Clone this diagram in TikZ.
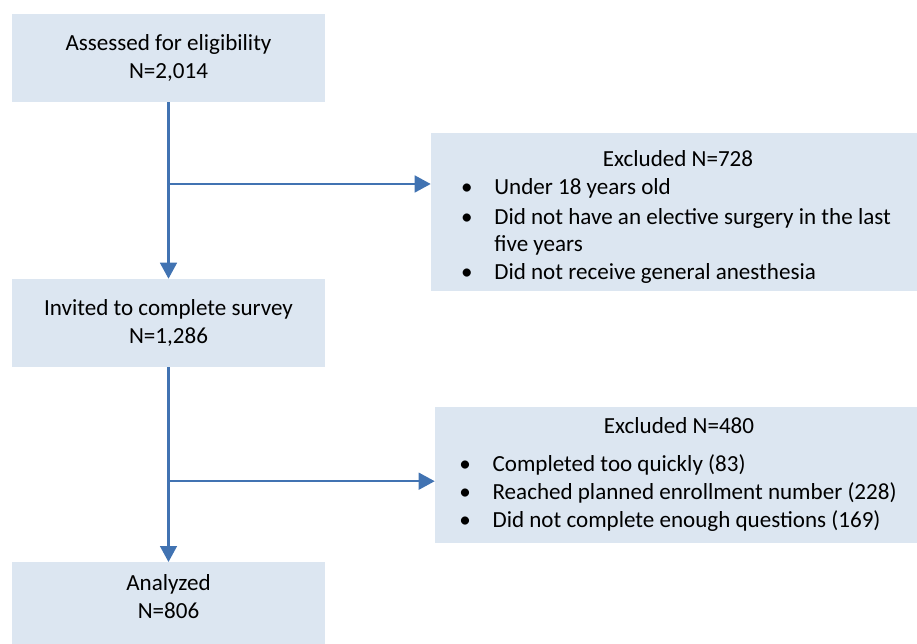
\documentclass[tikz,border=0pt]{standalone}
\usepackage{fontspec}
\setmainfont{Carlito}
\usepackage{xcolor}
\usetikzlibrary{positioning,arrows.meta,calc}

\definecolor{boxfill}{HTML}{DCE6F1}
\definecolor{arblue}{HTML}{4173B2}

\begin{document}
\begin{tikzpicture}[
  font=\fontsize{16.4}{19.9}\selectfont,
  stage/.style={fill=boxfill, align=center, inner sep=0pt,
                minimum width=7.825cm, minimum height=2.2cm},
  excl/.style={fill=boxfill, align=left, inner sep=0pt},
  ar/.style={-{Triangle[width=0.42cm,length=0.4cm]}, line width=1.5pt, arblue},
]
\useasboundingbox (0,0) rectangle (22.925,-16.075);
\newcommand{\bul}{\makebox[0.93cm][l]{\hspace{0.1cm}\textbullet}}

% --- main stages ---------------------------------------------------------
\node[stage] (assess) at (4.2125,-1.45)
     {Assessed for eligibility\\N=2,014};
\node[stage] (invite) at (4.2125,-8.075)
     {Invited to complete survey\\N=1,286};
\node[stage, anchor=north, text depth=0.5cm] (analyzed) at (4.2125,-14.05)
     {Analyzed\\N=806};

% --- exclusion boxes -----------------------------------------------------
\node[excl, minimum width=12.15cm, minimum height=3.95cm] (ex1) at (16.85,-5.3)
     {\begin{tabular}{@{}l@{}}
      \multicolumn{1}{@{}c@{}}{\rule{0pt}{0.76cm}\hspace{0.2cm}Excluded N=728}\\
      \bul Under 18 years old\\[0.05cm]
      \bul Did not have an elective surgery in the last\\
      \makebox[0.93cm]{}five years\\
      \bul Did not receive general anesthesia
      \end{tabular}};
\node[excl, minimum width=12.05cm, minimum height=3.4cm] (ex2) at (16.9,-11.875)
     {\begin{tabular}{@{}l@{}}
      \multicolumn{1}{@{}c@{}}{\hspace{0.15cm}Excluded N=480}\\[0.25cm]
      \bul Completed too quickly (83)\\
      \bul Reached planned enrollment number (228)\\
      \bul Did not complete enough questions (169)
      \end{tabular}};

% --- flow: down the stages, branch off to the exclusions -------------------
\coordinate (j1) at ($(assess.south)!0.463!(invite.north)$);
\coordinate (j2) at ($(invite.south)!0.585!(analyzed.north)$);
\draw[ar] (assess.south) -- (invite.north);
\draw[ar] (invite.south) -- (analyzed.north);
\draw[ar] (j1) -- (j1 -| ex1.west);
\draw[ar] (j2) -- (j2 -| ex2.west);
\end{tikzpicture}
\end{document}
